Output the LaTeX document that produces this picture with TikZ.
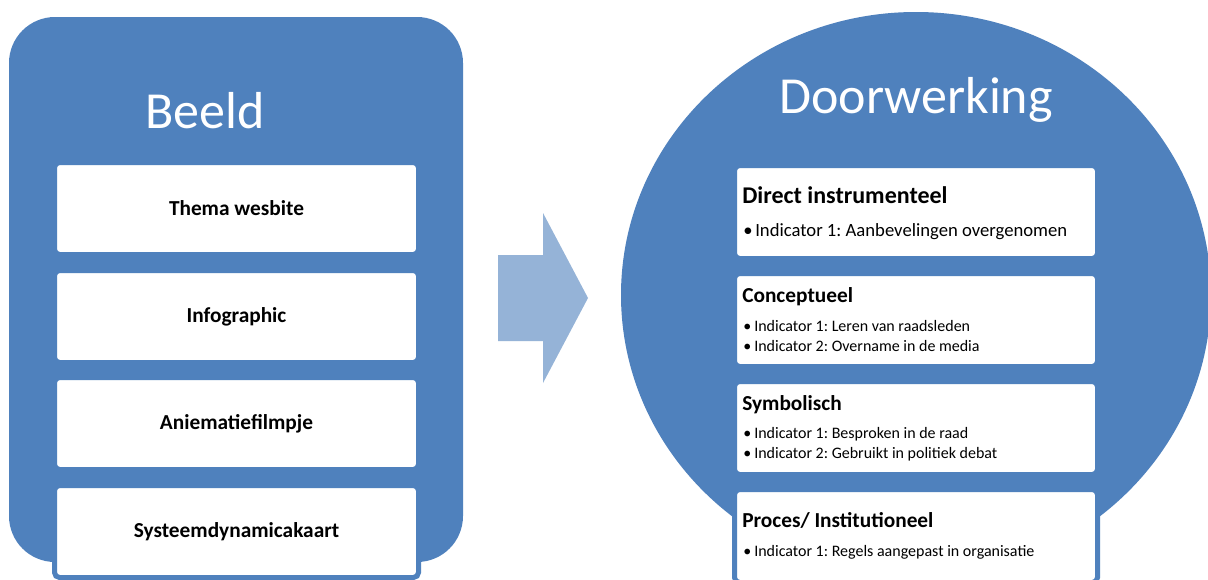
\documentclass[tikz,border=0pt]{standalone}
\usepackage{fontspec}
\setmainfont{Carlito}
\frenchspacing
\definecolor{accent}{HTML}{4F81BD}
\definecolor{arrowblue}{HTML}{95B3D7}
\begin{document}
\begin{tikzpicture}[x=0.75pt,y=-0.75pt,
  whitebox/.style={draw=accent, line width=3.75pt, fill=white, rounded corners=3.75pt, inner sep=0pt, outer sep=0pt},
  leftbox/.style={whitebox, minimum width=273pt, minimum height=69pt, font=\fontsize{16}{19}\selectfont\bfseries},
  rightbox/.style={whitebox, minimum width=272.25pt, minimum height=69.75pt},
  bigtitle/.style={anchor=base, inner sep=0pt, text=white, font=\fontsize{39}{46}\selectfont},
  firsttitle/.style={anchor=base west, inner sep=0pt, font=\fontsize{18}{22}\selectfont\bfseries},
  ttl/.style={anchor=base west, inner sep=0pt, font=\fontsize{16}{19}\selectfont\bfseries},
  firstitem/.style={anchor=base west, inner sep=0pt, font=\fontsize{14}{17}\selectfont},
  item/.style={anchor=base west, inner sep=0pt, font=\fontsize{12}{14}\selectfont}
]
\useasboundingbox (0,0) rectangle (1208,579);
\fill[white] (0,0) rectangle (1208,579);
% left panel
\fill[accent, rounded corners=34.5pt] (9,17) rectangle (463,562);
\node[bigtitle] (beeld) at (205,128) {Beeld};
\node[leftbox] (b1) at (236.5,208.5) {Thema wesbite};
\node[leftbox] (b2) at (236.5,316.5) {Infographic};
\node[leftbox] (b3) at (236.5,423.5) {Aniematiefilmpje};
\node[leftbox] (b4) at (236.5,531.5) {Systeemdynamicakaart};
% arrow
\fill[arrowblue] (498,255) -- (543,255) -- (543,213) -- (588,298) -- (543,383) -- (543,341) -- (498,341) -- cycle;
% right circle
\fill[accent] (916,295) ellipse [x radius=221.25pt, y radius=212.25pt];
\node[bigtitle] (door) at (916,113) {Doorwerking};
\node[rightbox] (r1) at (916,212) {};
\node[rightbox] (r2) at (916,320) {};
\node[rightbox] (r3) at (916,428) {};
\node[rightbox] (r4) at (916,536) {};
% box 1
\node[firsttitle] (t1) at (742,203) {Direct instrumenteel};
\node[firstitem] (d1) at (743,236) {•};
\node[firstitem] (i11) at (755,236) {Indicator 1:\ Aanbevelingen\ overgenomen};
% box 2
\node[ttl] (t2) at (742,302) {Conceptueel};
\node[item] (d21) at (743,331) {•};
\node[item] (i21) at (754,331) {Indicator 1: Leren van raadsleden};
\node[item] (d22) at (743,351) {•};
\node[item] (i22) at (754,351) {Indicator 2: Overname in de media};
% box 3
\node[ttl] (t3) at (742,410) {Symbolisch};
\node[item] (d31) at (743,438) {•};
\node[item] (i31) at (754,438) {Indicator 1: Besproken in de raad};
\node[item] (d32) at (743,458) {•};
\node[item] (i32) at (754,458) {Indicator 2: Gebruikt in politiek debat};
% box 4
\node[ttl] (t4) at (742,527) {Proces/ Institutioneel};
\node[item] (d41) at (743,556) {•};
\node[item] (i41) at (754,556) {Indicator 1: Regels aangepast in organisatie};
\end{tikzpicture}
\end{document}
